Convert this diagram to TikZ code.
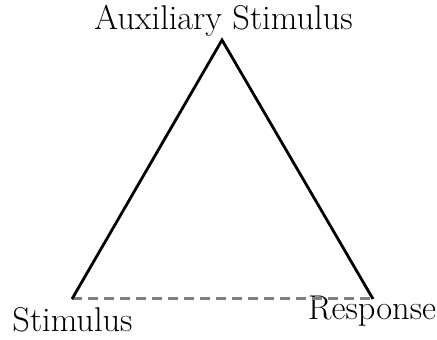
\documentclass[tikz,border=0pt]{standalone}
\begin{document}
\begin{tikzpicture}[x=0.5pt,y=-0.5pt,
  lbl/.style={inner sep=0pt,anchor=base,font=\fontsize{17.2}{21}\selectfont},
  edge/.style={line width=1.4pt,black},
  dashedge/.style={line width=1.5pt,black!50,dash pattern=on 5pt off 3pt}]
\useasboundingbox (0,0) rectangle (437,340);
\coordinate (A) at (222,40);
\coordinate (S) at (72,299);
\coordinate (R) at (373,299);
\node[lbl] (aux) at (223.5,30) {Auxiliary Stimulus};
\node[lbl] (stim) at (72.5,332) {Stimulus};
\node[lbl,anchor=base east] (resp) at (436.5,320) {Response};
\draw[dashedge] (S) -- (R);
\draw[edge,line join=miter] (S) -- (A) -- (R);
\end{tikzpicture}
\end{document}
